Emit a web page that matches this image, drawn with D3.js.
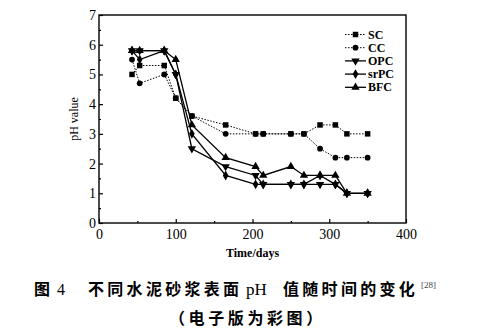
<!DOCTYPE html>
<html><head><meta charset="utf-8">
<script src="https://cdn.jsdelivr.net/npm/d3@7"></script>
<style>
html,body{margin:0;padding:0;background:#fff;}
svg{display:block;}
</style></head>
<body>
<svg id="c" width="485" height="335"></svg>
<script>
// ---- data ----
const times = [43, 53, 85, 100, 121, 165, 204, 214, 250, 267, 288, 308, 323, 350];
const seriesNames = ["SC", "CC", "OPC", "srPC", "BFC"];
const SC   = [5.0, 5.3, 5.3, 4.2, 3.6, 3.3, 3.0, 3.0, 3.0, 3.0, 3.3, 3.3, 3.0, 3.0];
const CC   = [5.5, 4.7, 5.0, 4.2, 3.6, 3.0, 3.0, 3.0, 3.0, 3.0, 2.5, 2.2, 2.2, 2.2];
const OPC  = [5.8, 5.8, 5.8, 5.0, 2.5, 1.9, 1.6, 1.3, 1.3, 1.3, 1.3, 1.3, 1.0, 1.0];
const srPC = [5.8, 5.5, 5.8, 5.0, 3.0, 1.6, 1.3, 1.3, 1.3, 1.3, 1.6, 1.3, 1.0, 1.0];
const BFC  = [5.8, 5.8, 5.8, 5.5, 3.3, 2.2, 1.9, 1.6, 1.9, 1.6, 1.6, 1.6, 1.0, 1.0];
const xTicks = [0, 100, 200, 300, 400];
const yTicks = [0, 1, 2, 3, 4, 5, 6, 7];
const xLabel = "Time/days";
const yLabel = "pH value";

const values = {SC, CC, OPC, srPC, BFC};
const styles = {
  SC:   {dash: "1.5,1.5", sym: d3.symbolSquare, size: 30},
  CC:   {dash: "1.5,1.5", sym: d3.symbolCircle, size: 26},
  OPC:  {dash: null, sym: "tridown", size: 30},
  srPC: {dash: null, sym: d3.symbolDiamond, size: 28},
  BFC:  {dash: null, sym: d3.symbolTriangle, size: 30}
};

const svg = d3.select("#c");
const L = 99, R = 406, T = 15, B = 223;
const x = d3.scaleLinear().domain([0, 400]).range([L, R]);
const y = d3.scaleLinear().domain([0, 7]).range([B, T]);
const serif = "'Liberation Serif','Times New Roman',serif";

// frame
svg.append("rect").attr("x", L).attr("y", T).attr("width", R - L).attr("height", B - T)
  .attr("fill", "none").attr("stroke", "#000").attr("stroke-width", 1.4);

// axes with inward ticks
const gx = svg.append("g").attr("transform", `translate(0,${B})`)
  .call(d3.axisBottom(x).tickValues(xTicks).tickSize(-4).tickPadding(8).tickFormat(d3.format("d")));
const gxm = svg.append("g").attr("transform", `translate(0,${B})`)
  .call(d3.axisBottom(x).tickValues([50,150,250,350]).tickSize(-2).tickFormat(""));
const gy = svg.append("g").attr("transform", `translate(${L},0)`)
  .call(d3.axisLeft(y).tickValues(yTicks).tickSize(-4).tickPadding(3).tickFormat(d3.format("d")));
const gym = svg.append("g").attr("transform", `translate(${L},0)`)
  .call(d3.axisLeft(y).tickValues([0.5,1.5,2.5,3.5,4.5,5.5,6.5]).tickSize(-2).tickFormat(""));
[gx, gxm, gy, gym].forEach(g => {
  g.select(".domain").remove();
  g.selectAll("line").attr("stroke", "#000").attr("stroke-width", 1.2);
  g.selectAll("text").attr("font-family", serif).attr("font-size", 14).attr("fill", "#000");
});
gx.selectAll("text").attr("dy", "0.55em");

// axis titles
svg.append("text").attr("x", (L + R) / 2).attr("y", 257).attr("text-anchor", "middle")
  .attr("font-family", serif).attr("font-size", 12).attr("font-weight", "bold").text(xLabel);
svg.append("text").attr("transform", `translate(78,${(T + B) / 2}) rotate(-90)`)
  .attr("text-anchor", "middle").attr("font-family", serif).attr("font-size", 12).text(yLabel);

function markPath(st) {
  if (st.sym === "tridown") return d3.symbol().type(d3.symbolTriangle).size(st.size)();
  return d3.symbol().type(st.sym).size(st.size)();
}
const line = d3.line().x((d, i) => x(times[i])).y(d => y(d));

seriesNames.forEach(name => {
  const st = styles[name], vals = values[name];
  svg.append("path").datum(vals).attr("d", line).attr("fill", "none")
    .attr("stroke", "#000").attr("stroke-width", st.dash ? 1 : 1.3)
    .attr("stroke-dasharray", st.dash);
  svg.append("g").selectAll("path").data(vals).join("path")
    .attr("d", markPath(st))
    .attr("transform", (d, i) => `translate(${x(times[i])},${y(d)})` + (st.sym === "tridown" ? " rotate(180)" : ""))
    .attr("fill", "#000");
});

// legend
const lg = svg.append("g");
seriesNames.forEach((name, i) => {
  const st = styles[name];
  const yy = 34.5 + i * 13.2;
  lg.append("line").attr("x1", 345).attr("x2", 366).attr("y1", yy).attr("y2", yy)
    .attr("stroke", "#000").attr("stroke-width", st.dash ? 1 : 1.3).attr("stroke-dasharray", st.dash);
  lg.append("path").attr("d", markPath(st))
    .attr("transform", `translate(355.5,${yy})` + (st.sym === "tridown" ? " rotate(180)" : "")).attr("fill", "#000");
  lg.append("text").attr("x", 368).attr("y", yy + 4).attr("font-family", serif)
    .attr("font-size", 12).attr("font-weight", "600").text(name);
});

// caption
const cjk = "'Noto Sans CJK SC','Noto Sans',sans-serif";
const cap = svg.append("text").attr("y", 295).attr("font-family", cjk).attr("font-size", 16).attr("font-weight", "bold");
cap.append("tspan").attr("x", 34).text("图");
cap.append("tspan").attr("x", 57).attr("font-family", serif).attr("font-weight", "normal").text("4");
cap.append("tspan").attr("x", 88).attr("letter-spacing", 3.3).text("不同水泥砂浆表面");
cap.append("tspan").attr("x", 246).attr("font-family", serif).attr("font-weight", "normal").attr("font-size", 17).text("pH");
cap.append("tspan").attr("x", 283).attr("letter-spacing", 3.3).text("值随时间的变化");
cap.append("tspan").attr("x", 421).attr("dy", -7).attr("font-family", serif).attr("font-weight", "normal")
  .attr("font-size", 9).attr("fill", "#444").text("[28]");
svg.append("text").attr("x", 169).attr("y", 324).attr("font-family", cjk).attr("font-size", 16)
  .attr("font-weight", "bold").attr("letter-spacing", 3.6).text("（电子版为彩图）");
</script>
</body></html>
